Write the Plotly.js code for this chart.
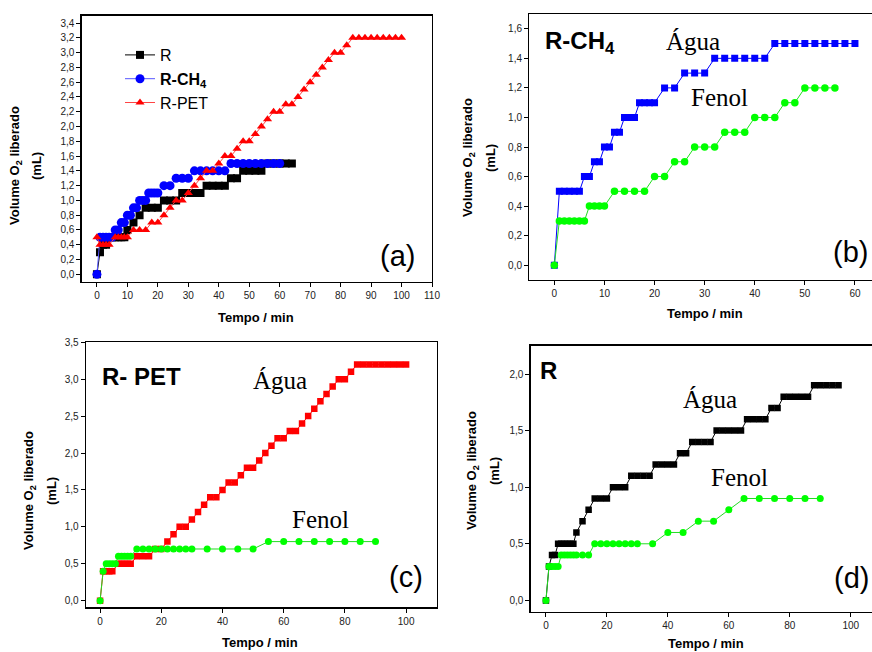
<!DOCTYPE html>
<html>
<head>
<meta charset="utf-8">
<script src="https://cdn.plot.ly/plotly-3.0.1.min.js"></script>
<style>
html,body{margin:0;padding:0;overflow:hidden;background:#fff;}
#plot{width:900px;height:652px;}
</style>
</head>
<body>
<div id="plot"></div>
<script>
// ---------- DATA ----------
// R-CH4 (panel b, blue = Água, green = Fenol)
const rch4Time = [0,1,2,3,4,5,6,7,8,9,10,11,12,13,14,15,16,17,18,19,20,22,24,26,28,30,32,34,36,38,40,42,44,46,48,50,52,54,56,58,60];
const rch4Agua = [0,0.5,0.5,0.5,0.5,0.5,0.6,0.6,0.7,0.7,0.8,0.8,0.9,0.9,1.0,1.0,1.0,1.1,1.1,1.1,1.1,1.2,1.2,1.3,1.3,1.3,1.4,1.4,1.4,1.4,1.4,1.4,1.5,1.5,1.5,1.5,1.5,1.5,1.5,1.5,1.5];
const rch4FenolTime = [0,1,2,3,4,5,6,7,8,9,10,12,14,16,18,20,22,24,26,28,30,32,34,36,38,40,42,44,46,48,50,52,54,56];
const rch4Fenol = [0,0.3,0.3,0.3,0.3,0.3,0.3,0.4,0.4,0.4,0.4,0.5,0.5,0.5,0.5,0.6,0.6,0.7,0.7,0.8,0.8,0.8,0.9,0.9,0.9,1.0,1.0,1.0,1.1,1.1,1.2,1.2,1.2,1.2];

// R-PET (panel c, red = Água, green = Fenol)
const petTime = [0,1,2,3,4,6,7,8,9,10,12,14,16,18,20,22,24,26,28,30,32,34,36,38,40,42,44,46,48,50,52,54,56,58,60,62,64,66,68,70,72,74,76,78,80,82,84,86,88,90,92,94,96,98,100];
const petAgua = [0,0.4,0.4,0.4,0.4,0.5,0.5,0.5,0.5,0.5,0.6,0.6,0.6,0.7,0.7,0.8,0.9,1.0,1.0,1.1,1.2,1.3,1.4,1.4,1.5,1.6,1.6,1.7,1.8,1.8,1.9,2.0,2.1,2.2,2.2,2.3,2.3,2.4,2.5,2.6,2.7,2.8,2.9,3.0,3.0,3.1,3.2,3.2,3.2,3.2,3.2,3.2,3.2,3.2,3.2];
const petAguaA = [0.5,0.4,0.4,0.4,0.4,0.5,0.5,0.5,0.5,0.5,0.6,0.6,0.6,0.7,0.7,0.8,0.9,1.0,1.0,1.1,1.2,1.3,1.4,1.4,1.5,1.6,1.6,1.7,1.8,1.8,1.9,2.0,2.1,2.2,2.2,2.3,2.3,2.4,2.5,2.6,2.7,2.8,2.9,3.0,3.0,3.1,3.2,3.2,3.2,3.2,3.2,3.2,3.2,3.2,3.2];
const petFenolTime = [0,1,2,3,4,5,6,7,8,9,10,12,14,16,18,20,22,24,26,28,30,35,40,45,50,55,60,65,70,75,80,85,90];
const petFenol = [0,0.4,0.5,0.5,0.5,0.5,0.6,0.6,0.6,0.6,0.6,0.7,0.7,0.7,0.7,0.7,0.7,0.7,0.7,0.7,0.7,0.7,0.7,0.7,0.7,0.8,0.8,0.8,0.8,0.8,0.8,0.8,0.8];

// R (panel d, black = Água, green = Fenol)
const rTime = [0,1,2,3,4,5,6,7,8,9,10,12,14,16,18,20,22,24,26,28,30,32,34,36,38,40,42,44,46,48,50,52,54,56,58,60,62,64,66,68,70,72,74,76,78,80,82,84,86,88,90,92,94,96];
const rAgua = [0,0.3,0.4,0.4,0.5,0.5,0.5,0.5,0.5,0.5,0.6,0.7,0.8,0.9,0.9,0.9,1.0,1.0,1.0,1.1,1.1,1.1,1.1,1.2,1.2,1.2,1.2,1.3,1.3,1.4,1.4,1.4,1.4,1.5,1.5,1.5,1.5,1.5,1.6,1.6,1.6,1.6,1.7,1.7,1.8,1.8,1.8,1.8,1.8,1.9,1.9,1.9,1.9,1.9];
const rTimeA = [0,1,2,3,4,5,6,7,8,9,10,12,14,16,18,20,22,24,26,28,30,32,34,36,38,40,42,44,46,48,50,52,54,56,58,60,62,64];
const rAguaA = [0,0.3,0.4,0.4,0.5,0.5,0.5,0.5,0.5,0.5,0.6,0.7,0.8,0.9,0.9,0.9,1.0,1.0,1.0,1.1,1.1,1.1,1.1,1.2,1.2,1.2,1.2,1.3,1.3,1.4,1.4,1.4,1.4,1.5,1.5,1.5,1.5,1.5];
const rFenolTime = [0,1,2,3,4,5,6,7,8,9,10,12,14,16,18,20,22,24,26,28,30,35,40,45,50,55,60,65,70,75,80,85,90];
const rFenol = [0,0.3,0.3,0.3,0.3,0.4,0.4,0.4,0.4,0.4,0.4,0.4,0.4,0.5,0.5,0.5,0.5,0.5,0.5,0.5,0.5,0.5,0.6,0.6,0.7,0.7,0.8,0.9,0.9,0.9,0.9,0.9,0.9];

// ---------- STYLE ----------
const W = 900, H = 652;
const SANS = 'Liberation Sans, Arial, sans-serif';
const SERIF = 'Liberation Serif, Times New Roman, serif';
const GREEN = '#00ff00', GREENLINE = '#22dd22';

function px(x0, x1) { return [x0 / W, x1 / W]; }
function py(top, bottom) { return [1 - bottom / H, 1 - top / H]; }

function axis(domain, range, dtick, fmt, anchor) {
  return {
    domain: domain, range: range, dtick: dtick, tick0: 0, tickformat: fmt,
    anchor: anchor, showline: true, linewidth: 1.3, linecolor: '#000', mirror: true,
    ticks: 'outside', ticklen: 4, tickwidth: 1, tickcolor: '#000',
    showgrid: false, zeroline: false, fixedrange: true,
    tickfont: { family: SANS, size: 10, color: '#222' }
  };
}

function tr(x, y, name, color, lineColor, symbol, size, xa, ya, showlegend) {
  return {
    x: x, y: y, name: name, type: 'scatter', mode: 'lines+markers',
    xaxis: xa, yaxis: ya, showlegend: !!showlegend,
    line: { color: lineColor, width: 1 },
    marker: { color: color, symbol: symbol, size: size, line: { width: 0 } }
  };
}

const data = [
  // panel (a)
  tr(rTimeA, rAguaA, 'R', '#000', '#000', 'square', 8, 'x', 'y', true),
  tr(rch4Time, rch4Agua, '<b>R-CH<sub>4</sub></b>', '#0000ff', '#5555ff', 'circle', 9, 'x', 'y', true),
  tr(petTime, petAguaA, 'R-PET', '#ff0000', '#ff4444', 'triangle-up', 8, 'x', 'y', true),
  // panel (b)
  tr(rch4Time, rch4Agua, 'Água', '#0000ff', '#0000ff', 'square', 7, 'x2', 'y2'),
  tr(rch4FenolTime, rch4Fenol, 'Fenol', GREEN, GREENLINE, 'circle', 7.5, 'x2', 'y2'),
  // panel (c)
  tr(petTime, petAgua, 'Água', '#ff0000', '#ff0000', 'square', 6.5, 'x3', 'y3'),
  tr(petFenolTime, petFenol, 'Fenol', GREEN, GREENLINE, 'circle', 7, 'x3', 'y3'),
  // panel (d)
  tr(rTime, rAgua, 'Água', '#000', '#000', 'square', 6.5, 'x4', 'y4'),
  tr(rFenolTime, rFenol, 'Fenol', GREEN, GREENLINE, 'circle', 7, 'x4', 'y4')
];

function ann(text, x, y, size, family, extra) {
  return Object.assign({
    text: text, x: x / W, y: 1 - y / H, xref: 'paper', yref: 'paper',
    xanchor: 'center', yanchor: 'middle', showarrow: false,
    font: { family: family, size: size, color: '#000' }
  }, extra || {});
}

const yTitle1 = '<b>Volume O<sub>2</sub> liberado</b>';
const yTitle2 = '<b>(mL)</b>';
const xTitle = '<b>Tempo / min</b>';

const annotations = [
  // panel labels
  ann('(a)', 397, 256, 29, SANS),
  ann('(b)', 850, 252, 29, SANS),
  ann('(c)', 406, 577, 29, SANS),
  ann('(d)', 851, 578, 29, SANS),
  // titles inside panels
  ann('<b>R-CH<sub>4</sub></b>', 580, 43, 24, SANS),
  ann('Água', 693, 42, 25, SERIF),
  ann('Fenol', 719, 97, 25, SERIF),
  ann('<b>R- PET</b>', 141, 376, 24, SANS),
  ann('Água', 280, 380, 25, SERIF),
  ann('Fenol', 320, 519, 25, SERIF),
  ann('<b>R</b>', 548, 370, 24, SANS),
  ann('Água', 710, 399, 25, SERIF),
  ann('Fenol', 739, 477, 25, SERIF),
  // x titles
  ann(xTitle, 256, 317, 13, SANS),
  ann(xTitle, 705, 313, 13, SANS),
  ann(xTitle, 260, 642, 13, SANS),
  ann(xTitle, 706, 643, 13, SANS),
  // y titles
  ann(yTitle1, 16, 166, 13, SANS, { textangle: -90 }),
  ann(yTitle2, 37, 166, 13, SANS, { textangle: -90 }),
  ann(yTitle1, 469, 158, 13, SANS, { textangle: -90 }),
  ann(yTitle2, 491, 158, 13, SANS, { textangle: -90 }),
  ann(yTitle1, 29, 491, 13, SANS, { textangle: -90 }),
  ann(yTitle2, 51, 491, 13, SANS, { textangle: -90 }),
  ann(yTitle1, 472, 471, 13, SANS, { textangle: -90 }),
  ann(yTitle2, 494, 471, 13, SANS, { textangle: -90 })
];

const layout = {
  width: W, height: H,
  margin: { l: 0, r: 0, t: 0, b: 0, pad: 0 },
  paper_bgcolor: '#fff', plot_bgcolor: '#fff',
  separators: ', ',
  showlegend: true,
  legend: {
    x: 120 / W, y: 1 - 38 / H, xanchor: 'left', yanchor: 'top',
    bgcolor: 'rgba(0,0,0,0)', borderwidth: 0,
    font: { family: SANS, size: 16, color: '#000' },
    tracegroupgap: 0
  },
  xaxis: axis(px(81.7, 432), [-5, 110], 10, 'd', 'y'),
  yaxis: axis(py(15.7, 281.7), [-0.1, 3.5], 0.2, '.1f', 'x'),
  xaxis2: axis(px(529.3, 880), [-5, 65], 10, 'd', 'y2'),
  yaxis2: axis(py(14, 280), [-0.1, 1.7], 0.2, '.1f', 'x2'),
  xaxis3: axis(px(86, 436.7), [-4.6, 110], 20, 'd', 'y3'),
  yaxis3: axis(py(342.3, 607.3), [-0.09, 3.5], 0.5, '.1f', 'x3'),
  xaxis4: axis(px(530.7, 881.2), [-5, 110], 20, 'd', 'y4'),
  yaxis4: axis(py(345.7, 611.7), [-0.1, 2.25], 0.5, '.1f', 'x4'),
  annotations: annotations
};

Plotly.newPlot('plot', data, layout, { staticPlot: true, displayModeBar: false });
</script>
</body>
</html>
